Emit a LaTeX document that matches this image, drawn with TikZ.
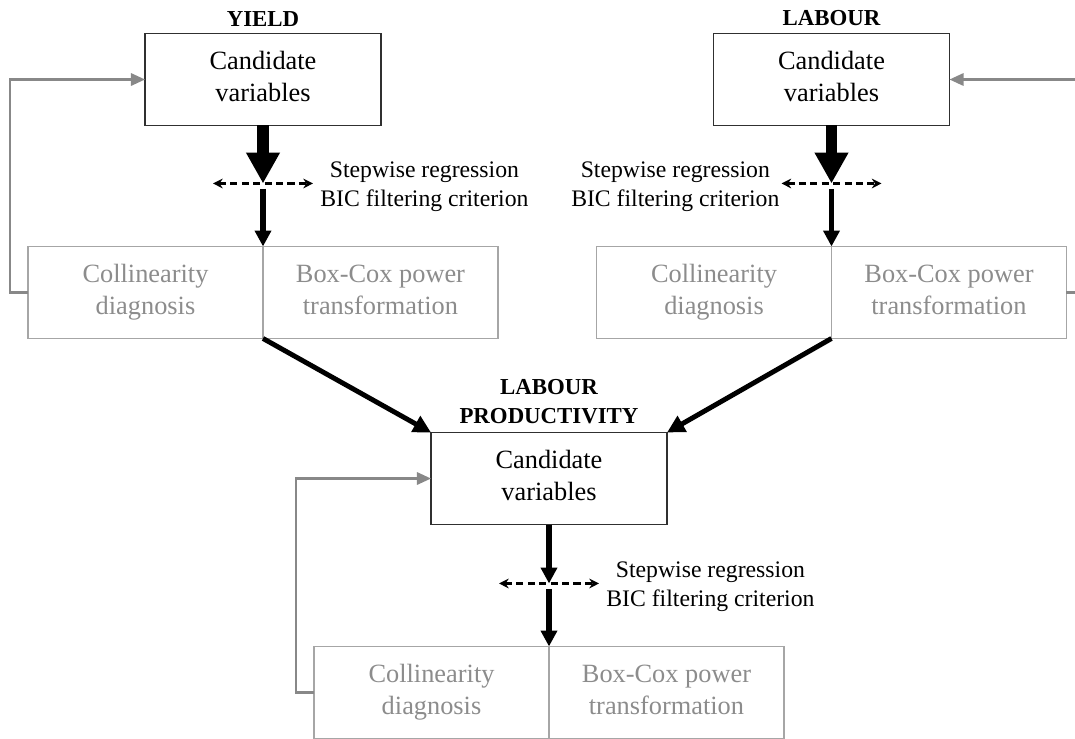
\documentclass[tikz,border=0pt]{standalone}
\usepackage{fontspec}
\setmainfont{Liberation Serif}
\usetikzlibrary{arrows.meta,positioning}

\definecolor{boxline}{HTML}{303030}
\definecolor{grayline}{HTML}{A6A6A6}
\definecolor{graytext}{HTML}{8C8C8C}
\definecolor{backline}{HTML}{888888}

\tikzset{
  cand/.style      = {draw=boxline, line width=0.9pt, minimum width=4.72cm, minimum height=1.84cm,
                      align=center, outer sep=0pt, font=\fontsize{15}{18}\selectfont},
  half/.style      = {draw=grayline, line width=0.8pt, minimum width=4.7cm, minimum height=1.84cm,
                      align=center, outer sep=0pt, text=graytext, font=\fontsize{15}{18}\selectfont},
  title/.style     = {inner sep=0pt, align=center, font=\fontsize{13}{16}\selectfont\bfseries},
  note/.style      = {inner sep=0pt, align=center, font=\fontsize{13.5}{16.5}\selectfont},
  bigarrow/.style  = {-{Triangle[length=17.5pt,width=18pt]}, line width=6.8pt},
  midarrow/.style  = {-{Triangle[length=9pt,width=9pt]}, line width=3.4pt},
  diagarrow/.style = {-{Triangle[length=10pt,width=10pt]}, line width=2.8pt},
  dasharrow/.style = {{Stealth[length=5.5pt,width=5.5pt]}-{Stealth[length=5.5pt,width=5.5pt]},
                      line width=1.5pt, dash pattern=on 4pt off 2.5pt},
  feedback/.style  = {draw=backline, line width=1.3pt, -{Triangle[length=8pt,width=7pt]}}
}

\begin{document}
\begin{tikzpicture}[x=0.02cm, y=-0.02cm]
\useasboundingbox (0,0) rectangle (1075,738);

% yield
\node (Y)  [cand] at (263,79.5)  {Candidate\\variables\vphantom{g}};
\node (Yt) [title, above=4pt of Y] {YIELD};
\node (Yc) [half, below=2.42cm of Y.south, anchor=north east] {Collinearity\\diagnosis};
\node (Yb) [half, right=0pt of Yc] {Box-Cox power\\transformation\vphantom{g}};
\coordinate[below=1.16cm of Y.south] (Ym);
\coordinate[left=1cm of Ym]  (Yl);
\coordinate[right=1cm of Ym] (Yr);
\node (Ys) [note, right=4pt of Yr, yshift=-2pt] {Stepwise regression\\BIC filtering criterion};

% labour
\node (L)  [cand] at (831.5,79.5) {Candidate\\variables\vphantom{g}};
\node (Lt) [title, above=4pt of L] {LABOUR};
\node (Lc) [half, below=2.42cm of L.south, anchor=north east] {Collinearity\\diagnosis};
\node (Lb) [half, right=0pt of Lc] {Box-Cox power\\transformation\vphantom{g}};
\coordinate[below=1.16cm of L.south] (Lm);
\coordinate[left=1cm of Lm]  (Ll);
\coordinate[right=1cm of Lm] (Lr);
\node (Ls) [note, left=1pt of Ll, yshift=-2pt] {Stepwise regression\\BIC filtering criterion};

% labour productivity
\node (P)  [cand] at (549,478.5) {Candidate\\variables\vphantom{g}};
\node (Pt) [title, above=5pt of P] {LABOUR\\PRODUCTIVITY};
\node (Pc) [half, below=2.44cm of P.south, anchor=north east] {Collinearity\\diagnosis};
\node (Pb) [half, right=0pt of Pc] {Box-Cox power\\transformation\vphantom{g}};
\coordinate[below=1.18cm of P.south] (Pm);
\coordinate[left=1cm of Pm]  (Pl);
\coordinate[right=1cm of Pm] (Pr);
\node (Ps) [note, right=4pt of Pr, yshift=-2pt] {Stepwise regression\\BIC filtering criterion};

\draw[bigarrow] (Y) -- (Ym);
\draw[midarrow, shorten <=3pt] (Ym) -- (Yc.north east);
\draw[dasharrow] (Yl) -- (Yr);
\draw[feedback] (Yc.west) -- ++(-18,0) |- (Y.west);

\draw[bigarrow] (L) -- (Lm);
\draw[midarrow, shorten <=3pt] (Lm) -- (Lc.north east);
\draw[dasharrow] (Ll) -- (Lr);
\draw[feedback] (Lb.east) -- ++(20,0) |- (L.east);

\draw[diagarrow] (Yc.south east) -- (P.north west);
\draw[diagarrow] (Lc.south east) -- (P.north east);

\draw[midarrow] (P) -- (Pm);
\draw[midarrow, shorten <=3pt] (Pm) -- (Pc.north east);
\draw[dasharrow] (Pl) -- (Pr);
\draw[feedback] (Pc.west) -- ++(-18,0) |- (P.west);
\end{tikzpicture}
\end{document}
